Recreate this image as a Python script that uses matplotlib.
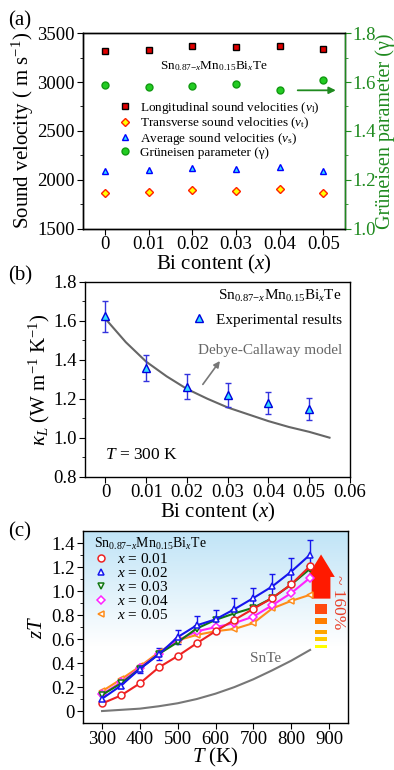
import numpy as np
import matplotlib
matplotlib.use("Agg")
import matplotlib.pyplot as plt
from matplotlib.colors import LinearSegmentedColormap
from matplotlib.lines import Line2D

# ==========================================
# Data
# ==========================================

bi_x = [0, 0.01, 0.02, 0.03, 0.04, 0.05]

v_long = [3320, 3330, 3370, 3358, 3370, 3340]
v_trans = [1868, 1878, 1898, 1888, 1910, 1868]
v_avg = [2088, 2098, 2118, 2110, 2130, 2088]
gruneisen = [1.588, 1.580, 1.585, 1.593, 1.567, 1.610]

kappa_exp = [1.624, 1.358, 1.262, 1.219, 1.178, 1.148]
kappa_err = [0.080, 0.065, 0.063, 0.060, 0.058, 0.057]

model_x = [0, 0.005, 0.01, 0.015, 0.02, 0.025, 0.03, 0.035, 0.04, 0.045, 0.05, 0.055]
model_k = [1.61, 1.49, 1.39, 1.315, 1.25, 1.20, 1.155, 1.12, 1.085, 1.055, 1.03, 1.00]

temps = [300, 350, 400, 450, 500, 550, 600, 650, 700, 750, 800, 850]

zt_001 = [0.063, 0.130, 0.231, 0.364, 0.459, 0.565, 0.666, 0.761, 0.853, 0.943, 1.057, 1.21]
zt_002 = [0.103, 0.212, 0.351, 0.473, 0.617, 0.715, 0.765, 0.850, 0.943, 1.040, 1.163, 1.305]
zt_003 = [0.135, 0.230, 0.353, 0.476, 0.575, 0.688, 0.761, 0.815, 0.862, 0.943, 1.055, 1.188]
zt_004 = [0.140, 0.240, 0.362, 0.476, 0.590, 0.665, 0.700, 0.734, 0.788, 0.883, 0.984, 1.112]
zt_005 = [0.165, 0.265, 0.372, 0.490, 0.590, 0.635, 0.666, 0.685, 0.734, 0.856, 0.919, 0.970]
zt_002_err = [0.02, 0.02, 0.03, 0.05, 0.06, 0.075, 0.075, 0.09, 0.085, 0.10, 0.115, 0.125]

snte_t = [300, 350, 400, 450, 500, 550, 600, 650, 700, 750, 800, 850]
snte_zt = [0.0, 0.01, 0.02, 0.04, 0.065, 0.10, 0.145, 0.20, 0.265, 0.34, 0.42, 0.51]

# enhancement arrow blocks (bottom, top) in zT
block_lo = [0.528, 0.585, 0.643, 0.725, 0.81]
block_hi = [0.553, 0.618, 0.680, 0.780, 0.895]
block_colors = ["#ffff00", "#ffcc00", "#ffa500", "#ff7f00", "#ff4a10"]

formula = r"Sn$_{0.87\mathrm{-}x}$Mn$_{0.15}$Bi$_{x}$Te"

# ==========================================
# Style
# ==========================================

plt.rcParams["font.family"] = ["Liberation Serif", "DejaVu Serif"]
plt.rcParams["mathtext.fontset"] = "custom"
plt.rcParams["mathtext.rm"] = "Liberation Serif"
plt.rcParams["mathtext.it"] = "Liberation Serif:italic"
plt.rcParams["mathtext.bf"] = "Liberation Serif:bold"
plt.rcParams["xtick.direction"] = "out"
plt.rcParams["ytick.direction"] = "out"
plt.rcParams["xtick.major.size"] = 4
plt.rcParams["ytick.major.size"] = 4
plt.rcParams["ytick.minor.size"] = 2.5
plt.rcParams["xtick.major.pad"] = 1.5
plt.rcParams["ytick.major.pad"] = 2
plt.rcParams["axes.linewidth"] = 1.0

green = "#1f8a1f"
tick_fs = 13.5
label_fs = 15

fig = plt.figure(figsize=(3.94, 7.70), dpi=100)

# ==========================================
# Panel (a)
# ==========================================

ax1 = fig.add_axes([0.211, 0.703, 0.665, 0.254])
ax1b = ax1.twinx()

h1, = ax1.plot(bi_x, v_long, "s", ms=4.3, mfc="#e00000", mec="black", mew=1.0)
h2, = ax1.plot(bi_x, v_trans, "D", ms=4.0, mfc="#ffff00", mec="#ff2000", mew=1.0)
h3, = ax1.plot(bi_x, v_avg, "^", ms=5.0, mfc="#33ddff", mec="#0000ff", mew=1.0)
h4, = ax1b.plot(bi_x, gruneisen, "o", ms=5.0, mfc="#22cc22", mec="#119911", mew=1.0)

ax1.set_xlim(-0.005, 0.055)
ax1.set_ylim(1500, 3500)
ax1b.set_ylim(1.0, 1.8)

ax1.set_xticks(bi_x)
ax1.set_xticklabels(["0", "0.01", "0.02", "0.03", "0.04", "0.05"])
ax1.set_yticks([1500, 2000, 2500, 3000, 3500])
ax1.set_yticks(np.arange(1750, 3500, 500), minor=True)
ax1b.set_yticks([1.0, 1.2, 1.4, 1.6, 1.8])
ax1b.set_yticklabels(["1.0", "1.2", "1.4", "1.6", "1.8"])
ax1b.set_yticks([1.1, 1.3, 1.5, 1.7], minor=True)

ax1.tick_params(labelsize=tick_fs, right=False)
ax1b.tick_params(axis="y", which="both", colors=green, labelsize=tick_fs, pad=1)
ax1b.spines["right"].set_color(green)

ax1.set_xlabel(r"Bi content ($x$)", fontsize=label_fs, labelpad=0)
ax1.set_ylabel(r"Sound velocity ( m s$^{\mathrm{-1}}$)", fontsize=label_fs, labelpad=1)
ax1b.set_ylabel("Grüneisen parameter (γ)", fontsize=label_fs - 0.5, color=green, labelpad=0)

ax1.text(0.5, 0.83, formula, transform=ax1.transAxes, ha="center", va="center", fontsize=9.5)

ax1.annotate("", xy=(0.0535, 2915), xytext=(0.0435, 2915),
             arrowprops=dict(arrowstyle="-|>", color=green, lw=1.3, mutation_scale=10))

ax1.legend([h1, h2, h3, h4],
           [r"Longitudinal sound velocities ($v_{\mathrm{l}}$)",
            r"Transverse sound velocities ($v_{\mathrm{t}}$)",
            r"Average sound velocities ($v_{\mathrm{s}}$)",
            "Grüneisen parameter (γ)"],
           loc="upper left", bbox_to_anchor=(0.1, 0.705), frameon=False,
           fontsize=9.5, handlelength=1.0, handletextpad=0.6, labelspacing=-0.02,
           borderpad=0.2)

fig.text(0.02, 0.985, "(a)", fontsize=15, va="top")

# ==========================================
# Panel (b)
# ==========================================

ax2 = fig.add_axes([0.216, 0.381, 0.672, 0.253])

ax2.plot(model_x, model_k, color="#666666", lw=1.5)
ax2.errorbar(bi_x, kappa_exp, yerr=kappa_err, fmt="none", ecolor="#3333dd",
             elinewidth=1.0, capsize=2.5, capthick=1.0)
h5, = ax2.plot(bi_x, kappa_exp, "^", ms=5.5, mfc="#33ddff", mec="#0000dd", mew=1.0)

ax2.set_xlim(-0.005, 0.06)
ax2.set_ylim(0.8, 1.8)
ax2.set_xticks([0, 0.01, 0.02, 0.03, 0.04, 0.05, 0.06])
ax2.set_xticklabels(["0", "0.01", "0.02", "0.03", "0.04", "0.05", "0.06"])
ax2.set_yticks([0.8, 1.0, 1.2, 1.4, 1.6, 1.8])
ax2.set_yticklabels(["0.8", "1.0", "1.2", "1.4", "1.6", "1.8"])
ax2.set_yticks([0.9, 1.1, 1.3, 1.5, 1.7], minor=True)
ax2.tick_params(labelsize=tick_fs)

ax2.set_xlabel(r"Bi content ($x$)", fontsize=label_fs, labelpad=0)
ax2.set_ylabel(r"$\kappa_L$ (W m$^{\mathrm{-1}}$ K$^{\mathrm{-1}}$)", fontsize=label_fs, labelpad=1)

ax2.text(0.97, 0.93, formula, transform=ax2.transAxes, ha="right", va="center", fontsize=11)
ax2.legend([h5], ["Experimental results"], loc="upper right", bbox_to_anchor=(1.01, 0.895),
           frameon=False, fontsize=11, handlelength=1.0, handletextpad=0.6, borderpad=0.2)

ax2.annotate("", xy=(0.0285, 1.405), xytext=(0.0235, 1.262),
             arrowprops=dict(arrowstyle="-|>", color="#777777", lw=1.2, mutation_scale=9))
ax2.text(0.0228, 1.45, "Debye-Callaway model", color="#666666", fontsize=11, va="center")
ax2.text(0.0, 0.91, r"$T$ = 300 K", fontsize=12.5, va="center")

fig.text(0.02, 0.654, "(b)", fontsize=15, va="top")

# ==========================================
# Panel (c)
# ==========================================

ax3 = fig.add_axes([0.211, 0.061, 0.672, 0.249])

grad = np.clip((np.linspace(0, 1, 256) - 0.4) / 0.6, 0, 1).reshape(-1, 1)
cmap = LinearSegmentedColormap.from_list("sky", ["#ffffff", "#c0e4f7"])
ax3.imshow(grad, extent=[0, 1, 0, 1], transform=ax3.transAxes, origin="lower",
           aspect="auto", cmap=cmap, zorder=0)

ax3.plot(snte_t, snte_zt, color="#777777", lw=1.5)
ax3.text(690, 0.44, "SnTe", color="#666666", fontsize=11, va="center")

series = [
    (zt_005, "<", "#ff8c1a", r"$x$ = 0.05"),
    (zt_004, "D", "#ff22ff", r"$x$ = 0.04"),
    (zt_003, "v", "#117711", r"$x$ = 0.03"),
    (zt_001, "o", "#ee2222", r"$x$ = 0.01"),
    (zt_002, "^", "#1515ee", r"$x$ = 0.02"),
]

ax3.errorbar(temps, zt_002, yerr=zt_002_err, fmt="none", ecolor="#1515ee",
             elinewidth=1.0, capsize=2.5, capthick=1.0, zorder=3)

handles = {}
for vals, mk, col, lab in series:
    ms = 4.2 if mk == "D" else 5.0
    ax3.plot(temps, vals, "-", marker=mk, color=col, lw=1.5, ms=ms,
             mfc="white", mec=col, mew=1.1, zorder=4)
    handles[lab] = Line2D([], [], ls="none", marker=mk, ms=ms, mfc="white",
                          mec=col, mew=1.1)

labs = [r"$x$ = 0.01", r"$x$ = 0.02", r"$x$ = 0.03", r"$x$ = 0.04", r"$x$ = 0.05"]
ax3.legend([handles[l] for l in labs], labs, title=formula, title_fontsize=10,
           loc="upper left", bbox_to_anchor=(0.0, 1.03), frameon=False, fontsize=11,
           handlelength=1.0, handletextpad=0.5, labelspacing=0.0, borderpad=0.2)
ax3.get_legend()._legend_box.align = "left"

# enhancement arrow
ax3.bar([879] * len(block_lo), np.array(block_hi) - np.array(block_lo), bottom=block_lo,
        width=33, color=block_colors, zorder=3)
ax3.annotate("", xy=(879, 1.33), xytext=(879, 0.915),
             arrowprops=dict(arrowstyle="simple,head_length=0.9,head_width=1.1,tail_width=0.75",
                             color="#ff1a00", lw=0, mutation_scale=18), zorder=3)
ax3.text(925, 0.91, "~ 160%", rotation=270, color="#e8402a", fontsize=12.5,
         ha="center", va="center")

ax3.set_xlim(250, 950)
ax3.set_ylim(-0.1, 1.5)
ax3.set_xticks([300, 400, 500, 600, 700, 800, 900])
ax3.set_yticks([0, 0.2, 0.4, 0.6, 0.8, 1.0, 1.2, 1.4])
ax3.set_yticklabels(["0", "0.2", "0.4", "0.6", "0.8", "1.0", "1.2", "1.4"])
ax3.set_yticks(np.arange(0.1, 1.5, 0.2), minor=True)
ax3.tick_params(labelsize=tick_fs)

ax3.set_xlabel(r"$T$ (K)", fontsize=label_fs, labelpad=-1)
ax3.set_ylabel(r"$zT$", fontsize=label_fs, labelpad=3)

fig.text(0.02, 0.322, "(c)", fontsize=15, va="top")

fig.savefig("out.png", dpi=100)
